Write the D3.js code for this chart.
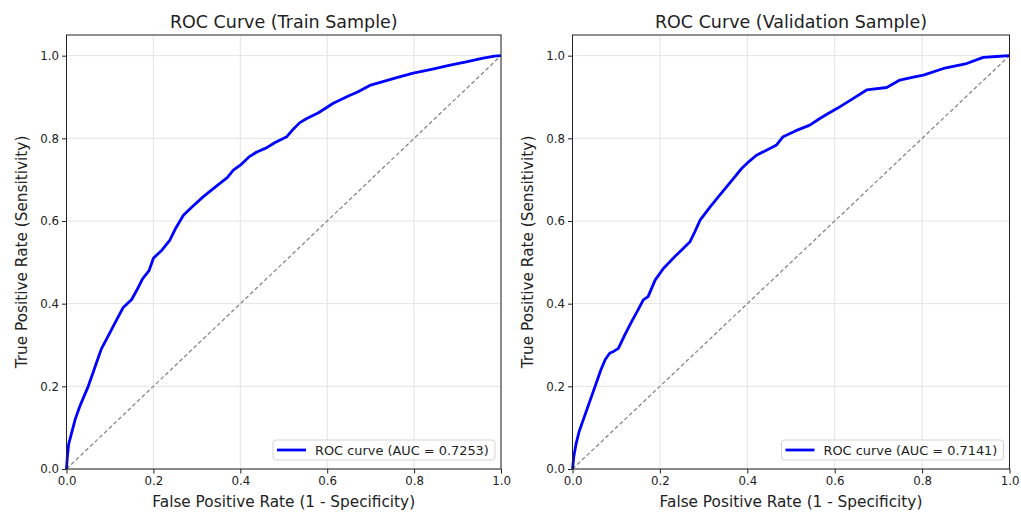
<!DOCTYPE html>
<html>
<head>
<meta charset="utf-8">
<script src="https://cdn.jsdelivr.net/npm/d3@7"></script>
<style>
  body { margin: 0; background: #fff; }
  svg text { font-family: "DejaVu Sans", sans-serif; fill: #222; }
</style>
</head>
<body>
<div id="chart"></div>
<script>
var w = 1021;
var h = 514;

// Train sample ROC points
var trainFpr = [0, 0.002, 0.005, 0.01, 0.015, 0.02, 0.03, 0.04, 0.05, 0.06, 0.07, 0.08, 0.09, 0.10,
  0.115, 0.13, 0.15, 0.162, 0.175, 0.19, 0.20, 0.22, 0.238, 0.25, 0.269, 0.29, 0.315, 0.335,
  0.353, 0.37, 0.384, 0.40, 0.42, 0.438, 0.46, 0.48, 0.507, 0.52, 0.537, 0.553, 0.58, 0.614,
  0.65, 0.67, 0.698, 0.73, 0.76, 0.798, 0.84, 0.883, 0.92, 0.959, 0.985, 1];
var trainTpr = [0, 0.03, 0.06, 0.08, 0.10, 0.12, 0.15, 0.175, 0.20, 0.23, 0.26, 0.29, 0.31, 0.33,
  0.36, 0.39, 0.41, 0.433, 0.46, 0.48, 0.51, 0.53, 0.554, 0.58, 0.614, 0.635, 0.659, 0.676,
  0.691, 0.705, 0.723, 0.735, 0.755, 0.767, 0.777, 0.79, 0.804, 0.82, 0.838, 0.848, 0.862, 0.885,
  0.903, 0.912, 0.928, 0.938, 0.947, 0.958, 0.967, 0.977, 0.985, 0.994, 0.999, 1];

// Validation sample ROC points
var valFpr = [0, 0.003, 0.008, 0.015, 0.025, 0.035, 0.045, 0.055, 0.065, 0.075, 0.085, 0.095, 0.105,
  0.12, 0.135, 0.15, 0.162, 0.173, 0.189, 0.208, 0.238, 0.269, 0.28, 0.292, 0.315, 0.335, 0.353,
  0.37, 0.387, 0.405, 0.421, 0.445, 0.467, 0.482, 0.51, 0.543, 0.566, 0.585, 0.605, 0.64, 0.673,
  0.719, 0.749, 0.78, 0.803, 0.849, 0.902, 0.94, 0.97, 1];
var valTpr = [0, 0.03, 0.06, 0.09, 0.12, 0.15, 0.18, 0.21, 0.24, 0.265, 0.28, 0.285, 0.292,
  0.325, 0.356, 0.385, 0.409, 0.417, 0.457, 0.485, 0.518, 0.55, 0.574, 0.602, 0.634, 0.66, 0.683,
  0.705, 0.727, 0.745, 0.759, 0.772, 0.784, 0.804, 0.818, 0.832, 0.848, 0.86, 0.872, 0.895, 0.917,
  0.923, 0.941, 0.948, 0.953, 0.969, 0.981, 0.996, 0.998, 1];

var titles = ["ROC Curve (Train Sample)", "ROC Curve (Validation Sample)"];
var aucValues = [0.7253, 0.7141];
var xTicks = [0, 0.2, 0.4, 0.6, 0.8, 1.0];
var yTicks = [0, 0.2, 0.4, 0.6, 0.8, 1.0];
var xLabel = "False Positive Rate (1 - Specificity)";
var yLabel = "True Positive Rate (Sensitivity)";

var panels = [
  { left: 66.5, right: 501, fpr: trainFpr, tpr: trainTpr, title: titles[0], auc: aucValues[0] },
  { left: 572.5, right: 1009.5, fpr: valFpr, tpr: valTpr, title: titles[1], auc: aucValues[1] }
];
var plotTop = 35;
var plotBottom = 469;

var svg = d3
  .select("#chart")
  .append("svg")
  .attr("width", w)
  .attr("height", h);

panels.forEach(function (p) {
  var xScale = d3.scaleLinear().domain([0, 1]).range([p.left, p.right]);
  var yScale = d3.scaleLinear().domain([0, 1.05]).range([plotBottom, plotTop]);
  var g = svg.append("g");

  // Grid
  g.selectAll(".vgrid")
    .data(xTicks)
    .enter()
    .append("line")
    .attr("x1", function (d) { return xScale(d); })
    .attr("x2", function (d) { return xScale(d); })
    .attr("y1", plotTop)
    .attr("y2", plotBottom)
    .attr("stroke", "#e3e3e3")
    .attr("stroke-width", 1);
  g.selectAll(".hgrid")
    .data(yTicks)
    .enter()
    .append("line")
    .attr("x1", p.left)
    .attr("x2", p.right)
    .attr("y1", function (d) { return yScale(d); })
    .attr("y2", function (d) { return yScale(d); })
    .attr("stroke", "#e3e3e3")
    .attr("stroke-width", 1);

  // Diagonal reference
  g.append("line")
    .attr("x1", xScale(0))
    .attr("y1", yScale(0))
    .attr("x2", xScale(1))
    .attr("y2", yScale(1))
    .attr("stroke", "#888")
    .attr("stroke-width", 1.3)
    .attr("stroke-dasharray", "4,2.5");

  // ROC curve
  var line = d3.line()
    .x(function (d) { return xScale(d[0]); })
    .y(function (d) { return yScale(d[1]); });
  g.append("path")
    .datum(d3.zip(p.fpr, p.tpr))
    .attr("d", line)
    .attr("fill", "none")
    .attr("stroke", "#0000ff")
    .attr("stroke-width", 2.8)
    .attr("stroke-linejoin", "round");

  // Axes
  var xAxis = d3.axisBottom(xScale).tickValues(xTicks).tickSize(4.5).tickPadding(3).tickFormat(d3.format(".1f"));
  var yAxis = d3.axisLeft(yScale).tickValues(yTicks).tickSize(4.5).tickPadding(3).tickFormat(d3.format(".1f"));
  var gx = g.append("g").attr("transform", "translate(0," + plotBottom + ")").call(xAxis);
  var gy = g.append("g").attr("transform", "translate(" + p.left + ",0)").call(yAxis);
  [gx, gy].forEach(function (a) {
    a.select(".domain").remove();
    a.selectAll("line").attr("stroke", "#222");
    a.selectAll("text").attr("font-size", "11.8px").attr("font-family", "DejaVu Sans").attr("fill", "#222");
  });

  // Frame
  g.append("rect")
    .attr("x", p.left)
    .attr("y", plotTop)
    .attr("width", p.right - p.left)
    .attr("height", plotBottom - plotTop)
    .attr("fill", "none")
    .attr("stroke", "#222")
    .attr("stroke-width", 1);

  // Title and labels
  var cx = (p.left + p.right) / 2;
  g.append("text")
    .attr("x", cx)
    .attr("y", 28)
    .attr("text-anchor", "middle")
    .attr("font-size", "17.5px")
    .text(p.title);
  g.append("text")
    .attr("x", cx)
    .attr("y", 507)
    .attr("text-anchor", "middle")
    .attr("font-size", "15.3px")
    .text(xLabel);
  g.append("text")
    .attr("transform", "translate(" + (p.left - 39.5) + "," + ((plotTop + plotBottom) / 2) + ") rotate(-90)")
    .attr("text-anchor", "middle")
    .attr("font-size", "15.3px")
    .text(yLabel);

  // Legend
  var lx = p.right - 228;
  var ly = 440;
  g.append("rect")
    .attr("x", lx)
    .attr("y", ly)
    .attr("width", 222)
    .attr("height", 20)
    .attr("rx", 3)
    .attr("fill", "#fff")
    .attr("fill-opacity", 0.8)
    .attr("stroke", "#d5d5d5")
    .attr("stroke-width", 1);
  g.append("line")
    .attr("x1", lx + 4)
    .attr("x2", lx + 33)
    .attr("y1", ly + 10)
    .attr("y2", ly + 10)
    .attr("stroke", "#0000ff")
    .attr("stroke-width", 2.8);
  g.append("text")
    .attr("x", lx + 42)
    .attr("y", ly + 14.5)
    .attr("font-size", "12.9px")
    .text("ROC curve (AUC = " + p.auc.toFixed(4) + ")");
});
</script>
</body>
</html>
